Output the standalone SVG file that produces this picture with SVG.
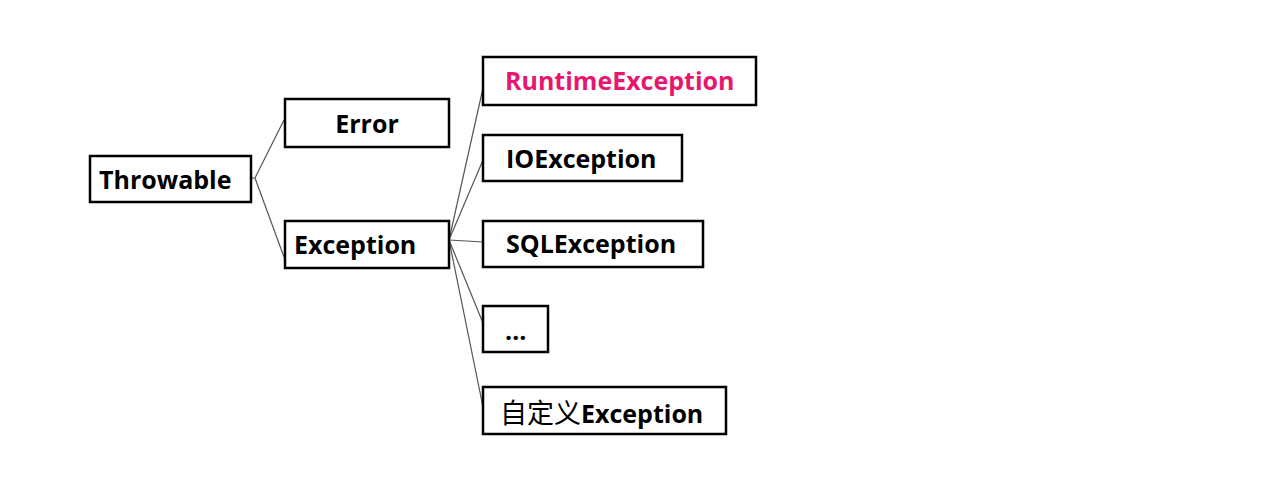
<svg xmlns="http://www.w3.org/2000/svg" width="1261" height="479" viewBox="0 0 1261 479">
<style>
.box{fill:#fff;stroke:#000;stroke-width:2.5}
.t{font-family:"Open Sans","Liberation Sans","Noto Sans CJK SC",sans-serif;font-weight:bold;font-size:25px;fill:#000}
.red{fill:#E8176E}
.cjk{font-family:"Noto Sans CJK SC",sans-serif;font-weight:normal;font-size:27px}
.c{stroke:#555;stroke-width:1.2;fill:none}
</style>
<rect width="1261" height="479" fill="#fff"/>
<g id="connectors">
<path class="c" d="M251,178 L255,178 L284,120"/>
<path class="c" d="M255,178 L284,257"/>
<path class="c" d="M449,240 L483,88"/>
<path class="c" d="M449,240 L483,160"/>
<path class="c" d="M449,240 L483,242"/>
<path class="c" d="M449,240 L483,323"/>
<path class="c" d="M449,240 L483,407"/>
</g>
<g id="throwable"><rect class="box" x="90" y="156" width="161" height="46"/><text class="t" x="99" y="189">Throwable</text></g>
<g id="error"><rect class="box" x="285" y="99" width="164" height="48"/><text class="t" x="367" y="133" text-anchor="middle">Error</text></g>
<g id="exception"><rect class="box" x="285" y="221" width="164" height="47"/><text class="t" x="294" y="254">Exception</text></g>
<g id="runtime"><rect class="box" x="483" y="57" width="273" height="48"/><text class="t red" x="505" y="90">RuntimeException</text></g>
<g id="io"><rect class="box" x="483" y="135" width="199" height="46"/><text class="t" x="506" y="168">IOException</text></g>
<g id="sql"><rect class="box" x="483" y="221" width="220" height="46"/><text class="t" x="506" y="253">SQLException</text></g>
<g id="more"><rect class="box" x="483" y="306" width="65" height="46"/><text class="t" x="505" y="340">…</text></g>
<g id="custom"><rect class="box" x="483" y="387" width="243" height="47"/><text class="t" x="500" y="423"><tspan class="cjk">自定义</tspan>Exception</text></g>
</svg>
